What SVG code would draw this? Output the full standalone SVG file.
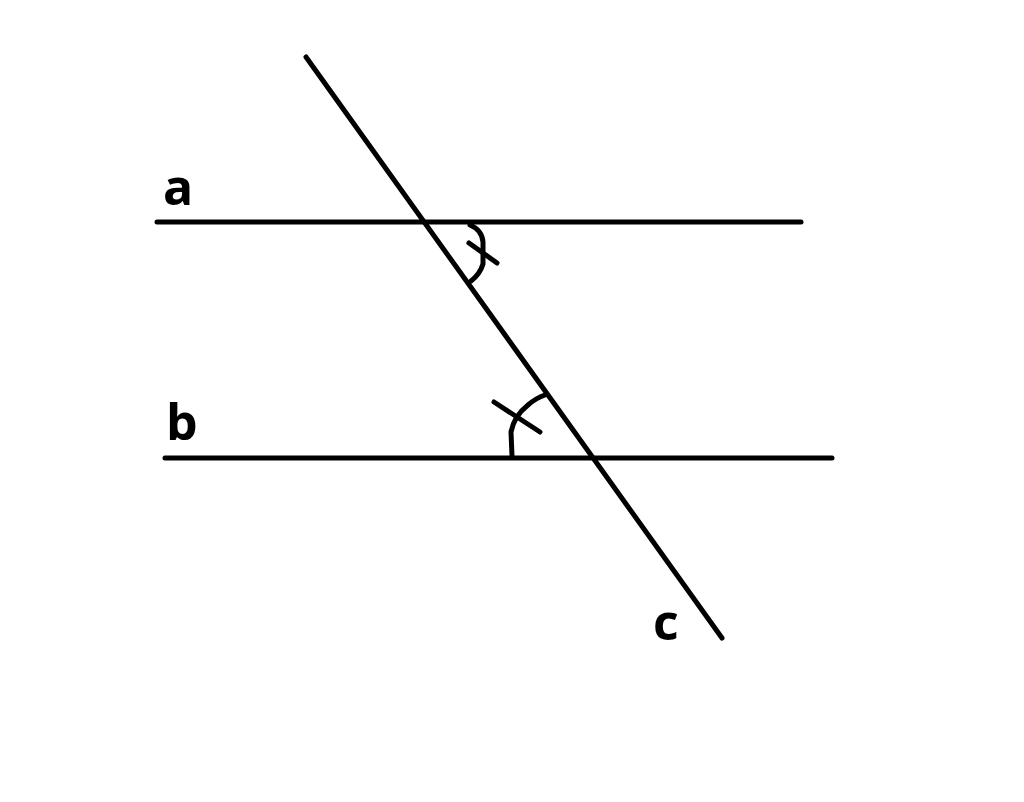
<svg xmlns="http://www.w3.org/2000/svg" width="1024" height="802" viewBox="0 0 1024 802">
<style>
.ln{stroke:#000;stroke-width:5;fill:none;stroke-linecap:round;stroke-linejoin:round}
.lb{font-family:"Open Sans","Liberation Sans",sans-serif;font-weight:bold;font-size:50px;fill:#000}
</style>
<rect width="1024" height="802" fill="#fff"/>
<g id="lines">
<line id="line-a" class="ln" x1="157" y1="222" x2="801" y2="222"/>
<line id="line-b" class="ln" x1="165" y1="458" x2="832" y2="458"/>
<line id="line-c" class="ln" x1="306" y1="57" x2="722" y2="638"/>
</g>
<g id="angle-1">
<path class="ln" d="M470,225 Q482,230 483,242 L483,264 Q480,274 471,281"/>
<line class="ln" x1="469" y1="243" x2="497" y2="263"/>
</g>
<g id="angle-2">
<path class="ln" d="M512,456 L511,432 Q514,416 528,405 Q536,398 545,395"/>
<line class="ln" x1="494" y1="402" x2="540" y2="432"/>
</g>
<text id="label-a" class="lb" x="163" y="205">a</text>
<text id="label-b" class="lb" x="166" y="440">b</text>
<text id="label-c" class="lb" x="653" y="640">c</text>
</svg>
